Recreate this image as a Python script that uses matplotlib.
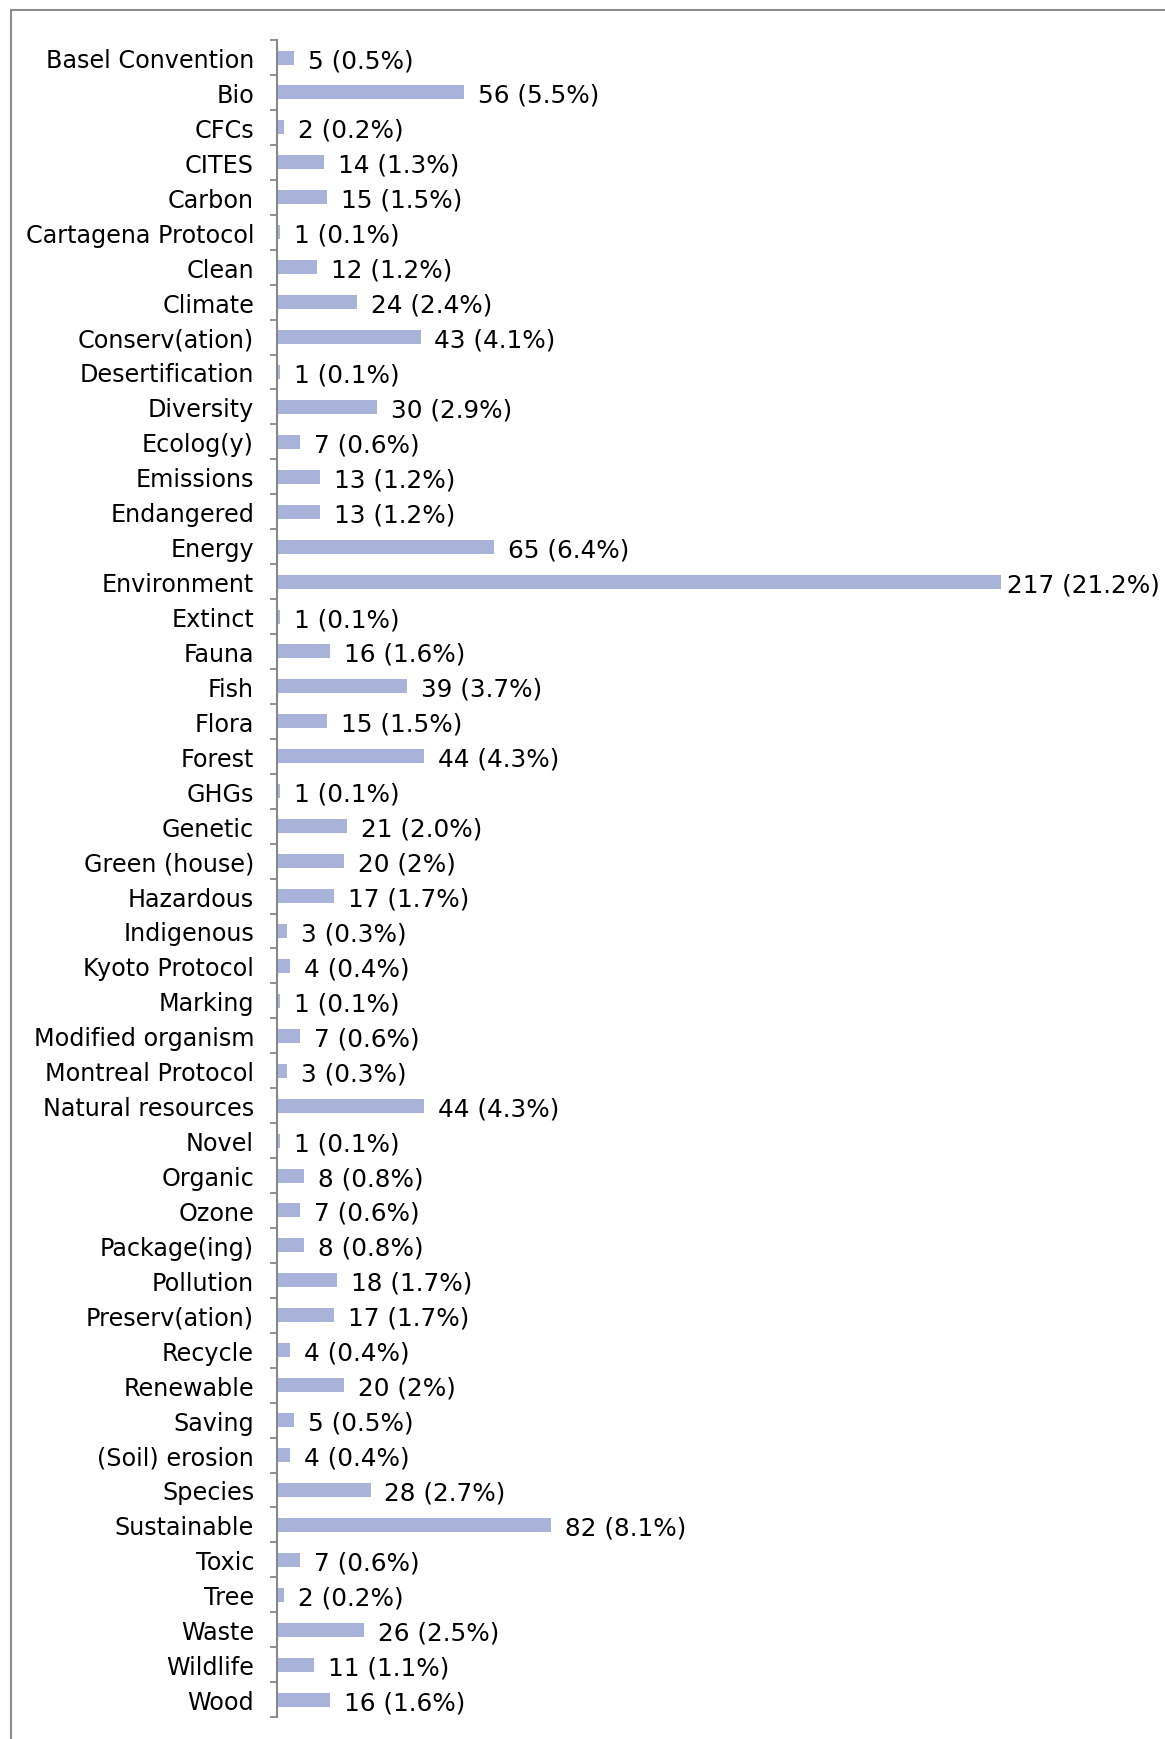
import matplotlib
matplotlib.use('Agg')
import matplotlib.pyplot as plt
from matplotlib.lines import Line2D

terms = ['Basel Convention', 'Bio', 'CFCs', 'CITES', 'Carbon', 'Cartagena Protocol',
         'Clean', 'Climate', 'Conserv(ation)', 'Desertification', 'Diversity',
         'Ecolog(y)', 'Emissions', 'Endangered', 'Energy', 'Environment', 'Extinct',
         'Fauna', 'Fish', 'Flora', 'Forest', 'GHGs', 'Genetic', 'Green (house)',
         'Hazardous', 'Indigenous', 'Kyoto Protocol', 'Marking', 'Modified organism',
         'Montreal Protocol', 'Natural resources', 'Novel', 'Organic', 'Ozone',
         'Package(ing)', 'Pollution', 'Preserv(ation)', 'Recycle', 'Renewable',
         'Saving', '(Soil) erosion', 'Species', 'Sustainable', 'Toxic', 'Tree',
         'Waste', 'Wildlife', 'Wood']
counts = [5, 56, 2, 14, 15, 1, 12, 24, 43, 1, 30, 7, 13, 13, 65, 217, 1, 16, 39, 15,
          44, 1, 21, 20, 17, 3, 4, 1, 7, 3, 44, 1, 8, 7, 8, 18, 17, 4, 20, 5, 4, 28,
          82, 7, 2, 26, 11, 16]
shares = ['0.5%', '5.5%', '0.2%', '1.3%', '1.5%', '0.1%', '1.2%', '2.4%', '4.1%',
          '0.1%', '2.9%', '0.6%', '1.2%', '1.2%', '6.4%', '21.2%', '0.1%', '1.6%',
          '3.7%', '1.5%', '4.3%', '0.1%', '2.0%', '2%', '1.7%', '0.3%', '0.4%',
          '0.1%', '0.6%', '0.3%', '4.3%', '0.1%', '0.8%', '0.6%', '0.8%', '1.7%',
          '1.7%', '0.4%', '2%', '0.5%', '0.4%', '2.7%', '8.1%', '0.6%', '0.2%',
          '2.5%', '1.1%', '1.6%']

fig = plt.figure(figsize=(11.65, 17.40), dpi=100)
ax = fig.add_axes([0.2378, 0.0126, 0.7622, 0.9638])

pos = list(range(len(terms)))
ax.barh(pos, counts, height=0.4, color='#A9B3D9')

top = max(counts)
for y, c, s in zip(pos, counts, shares):
    off = 4.0 if c == top else 10
    ax.annotate(f'{c} ({s})', (c, y), xytext=(off, 0), textcoords='offset points',
                ha='left', va='center_baseline', fontsize=17.8, color='black')

ax.set_xlim(0, 266)
ax.set_ylim(len(terms) - 0.5, -0.5)
ax.set_yticks(pos)
ax.set_yticklabels(terms, fontsize=17.2)
ax.set_yticks([p - 0.5 for p in pos] + [len(terms) - 0.5], minor=True)
ax.tick_params(axis='y', which='major', length=0, pad=16.5)
ax.tick_params(axis='y', which='minor', length=5, width=1.3, color='#888888')
ax.set_xticks([])
for side in ['top', 'right', 'bottom']:
    ax.spines[side].set_visible(False)
ax.spines['left'].set_color('#888888')
ax.spines['left'].set_linewidth(1.5)

# outer chart frame (top and left edges only visible)
fig.add_artist(Line2D([0.0093, 0.0093], [0, 0.9937], transform=fig.transFigure,
                      color='#8C8C8C', lw=1.5))
fig.add_artist(Line2D([0.0093, 1.0], [0.9937, 0.9937], transform=fig.transFigure,
                      color='#8C8C8C', lw=1.5))

fig.savefig('out.png', dpi=100, facecolor='white')
